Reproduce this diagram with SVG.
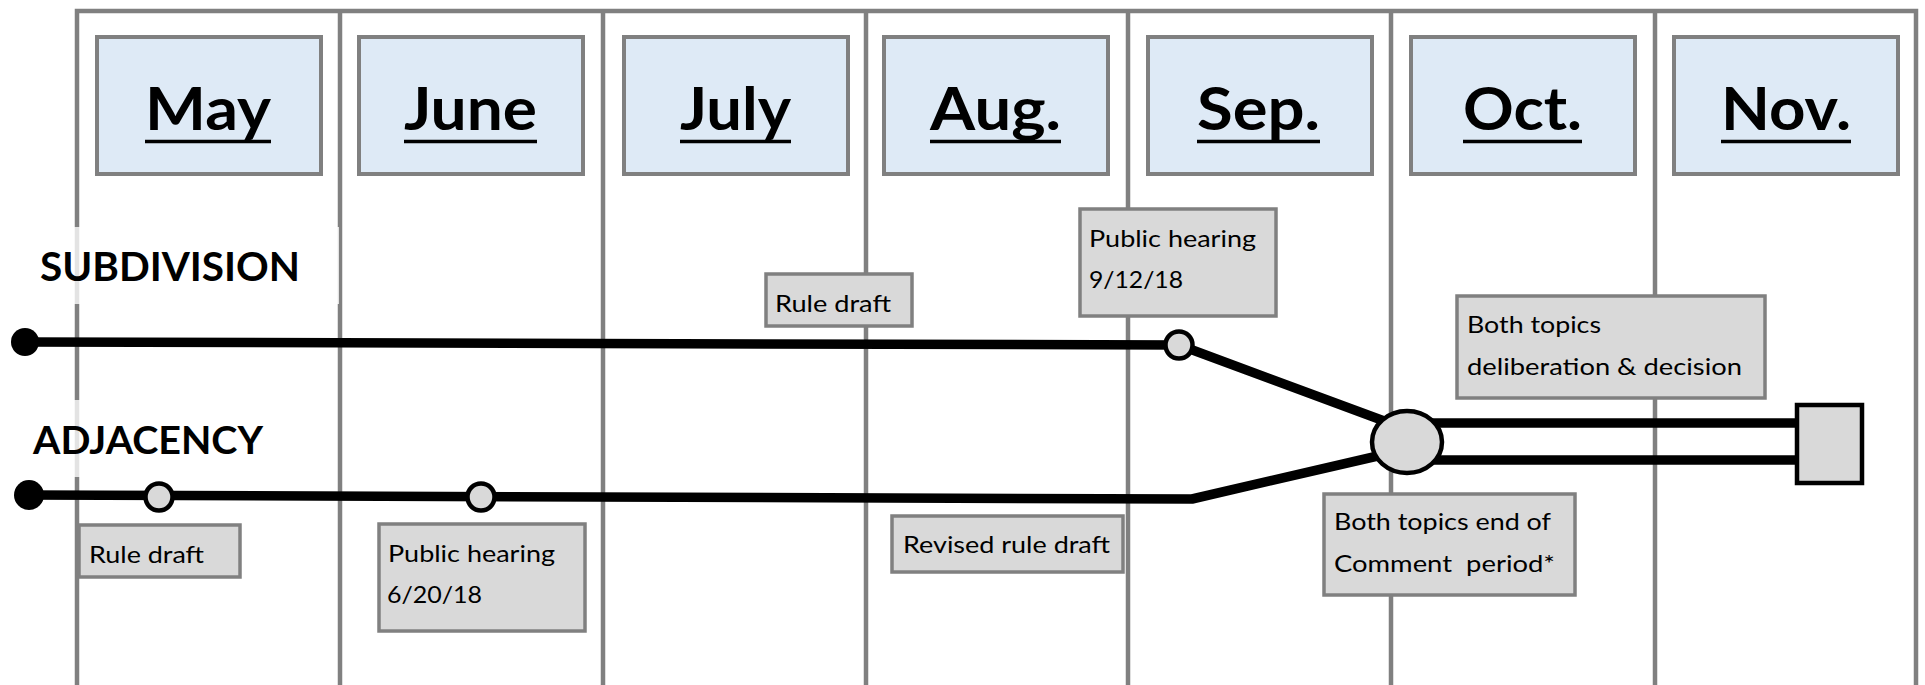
<svg xmlns="http://www.w3.org/2000/svg" width="1925" height="685" viewBox="0 0 1925 685">
<style>
.grid{stroke:#808080;stroke-width:4.5;fill:none}
.month rect{fill:#deeaf6;stroke:#808080;stroke-width:4}
.month text{font-family:Lato,"Open Sans",sans-serif;font-weight:bold;font-size:60px;fill:#000}
.ul{stroke:#000;stroke-width:3.5}
.lbl rect{fill:#d9d9d9;stroke:#808080;stroke-width:3.5}
.lbl text{font-family:Lato,"Open Sans",sans-serif;font-size:24px;fill:#000;white-space:pre}
.track{font-family:Lato,"Open Sans",sans-serif;font-weight:bold;fill:#000}
.conn{stroke:#000;stroke-width:9.5;fill:none;stroke-linejoin:round}
.node{fill:#d9d9d9;stroke:#000;stroke-width:4.5}
</style>
<rect width="1925" height="685" fill="#fff"/>
<g id="grid">
<polyline class="grid" points="77,685 77,11 1916,11 1916,685"/>
<line class="grid" x1="340" y1="11" x2="340" y2="685"/>
<line class="grid" x1="603" y1="11" x2="603" y2="685"/>
<line class="grid" x1="866" y1="11" x2="866" y2="685"/>
<line class="grid" x1="1128" y1="11" x2="1128" y2="685"/>
<line class="grid" x1="1391" y1="11" x2="1391" y2="685"/>
<line class="grid" x1="1655" y1="11" x2="1655" y2="685"/>
</g>
<g id="track-labels">
<g id="subdivision-label">
<rect x="20" y="227" width="319" height="77" fill="#fff" fill-opacity="0.78"/>
<text class="track" x="40" y="281" font-size="40" textLength="260" lengthAdjust="spacingAndGlyphs">SUBDIVISION</text>
</g>
<g id="adjacency-label">
<rect x="20" y="400" width="270" height="77" fill="#fff" fill-opacity="0.78"/>
<text class="track" x="33" y="454" font-size="38" textLength="230" lengthAdjust="spacingAndGlyphs">ADJACENCY</text>
</g>
</g>
<g id="months">
<g id="m-may" class="month"><rect x="97" y="37" width="224" height="137"/><text x="145" y="130" textLength="126" lengthAdjust="spacingAndGlyphs">May</text><line class="ul" x1="145" y1="141.5" x2="271" y2="141.5"/></g>
<g id="m-june" class="month"><rect x="359" y="37" width="224" height="137"/><text x="404" y="130" textLength="133" lengthAdjust="spacingAndGlyphs">June</text><line class="ul" x1="404" y1="141.5" x2="537" y2="141.5"/></g>
<g id="m-july" class="month"><rect x="624" y="37" width="224" height="137"/><text x="680" y="130" textLength="111" lengthAdjust="spacingAndGlyphs">July</text><line class="ul" x1="680" y1="141.5" x2="791" y2="141.5"/></g>
<g id="m-aug" class="month"><rect x="884" y="37" width="224" height="137"/><text x="930" y="130" textLength="131" lengthAdjust="spacingAndGlyphs">Aug.</text><line class="ul" x1="930" y1="141.5" x2="1061" y2="141.5"/></g>
<g id="m-sep" class="month"><rect x="1148" y="37" width="224" height="137"/><text x="1197" y="130" textLength="123" lengthAdjust="spacingAndGlyphs">Sep.</text><line class="ul" x1="1197" y1="141.5" x2="1320" y2="141.5"/></g>
<g id="m-oct" class="month"><rect x="1411" y="37" width="224" height="137"/><text x="1463" y="130" textLength="119" lengthAdjust="spacingAndGlyphs">Oct.</text><line class="ul" x1="1463" y1="141.5" x2="1582" y2="141.5"/></g>
<g id="m-nov" class="month"><rect x="1674" y="37" width="224" height="137"/><text x="1721" y="130" textLength="130" lengthAdjust="spacingAndGlyphs">Nov.</text><line class="ul" x1="1721" y1="141.5" x2="1851" y2="141.5"/></g>
</g>
<g id="connectors">
<polyline class="conn" points="25,342 1179,345 1395,425"/>
<polyline class="conn" points="29,495 1192,499 1395,452"/>
<line class="conn" x1="1407" y1="423" x2="1800" y2="423"/>
<line class="conn" x1="1407" y1="460" x2="1800" y2="460"/>
</g>
<g id="nodes">
<circle id="sub-start" cx="25" cy="342" r="14" fill="#000"/>
<circle id="adj-start" cx="29" cy="495" r="15" fill="#000"/>
<circle id="adj-rule-draft" class="node" cx="159" cy="497" r="13.5"/>
<circle id="adj-hearing" class="node" cx="481" cy="497" r="13.5"/>
<circle id="sub-hearing" class="node" cx="1179" cy="345" r="13.5"/>
<ellipse id="merge" class="node" cx="1407" cy="442" rx="35" ry="31" stroke-width="5"/>
<rect id="end" class="node" x="1797" y="405" width="65" height="78" stroke-width="6"/>
</g>
<g id="labels">
<g id="lbl-adj-rule" class="lbl"><rect x="79" y="525" width="161" height="52"/><text x="89" y="563" textLength="115" lengthAdjust="spacingAndGlyphs">Rule draft</text></g>
<g id="lbl-adj-hearing" class="lbl"><rect x="379" y="524" width="206" height="107"/><text x="388" y="562" textLength="167" lengthAdjust="spacingAndGlyphs">Public hearing</text><text x="387" y="603" textLength="95" lengthAdjust="spacingAndGlyphs">6/20/18</text></g>
<g id="lbl-sub-rule" class="lbl"><rect x="766" y="274" width="146" height="52"/><text x="775" y="312" textLength="116" lengthAdjust="spacingAndGlyphs">Rule draft</text></g>
<g id="lbl-sub-hearing" class="lbl"><rect x="1080" y="209" width="196" height="107"/><text x="1089" y="247" textLength="167" lengthAdjust="spacingAndGlyphs">Public hearing</text><text x="1089" y="288" textLength="94" lengthAdjust="spacingAndGlyphs">9/12/18</text></g>
<g id="lbl-revised" class="lbl"><rect x="892" y="516" width="231" height="56"/><text x="903" y="553" textLength="207" lengthAdjust="spacingAndGlyphs">Revised rule draft</text></g>
<g id="lbl-comment" class="lbl"><rect x="1324" y="494" width="251" height="101"/><text x="1334" y="530" textLength="217" lengthAdjust="spacingAndGlyphs">Both topics end of</text><text x="1334" y="572" textLength="221" lengthAdjust="spacingAndGlyphs">Comment  period*</text></g>
<g id="lbl-decision" class="lbl"><rect x="1457" y="296" width="308" height="102"/><text x="1467" y="333" textLength="134" lengthAdjust="spacingAndGlyphs">Both topics</text><text x="1467" y="375" textLength="275" lengthAdjust="spacingAndGlyphs">deliberation &amp; decision</text></g>
</g>
</svg>
